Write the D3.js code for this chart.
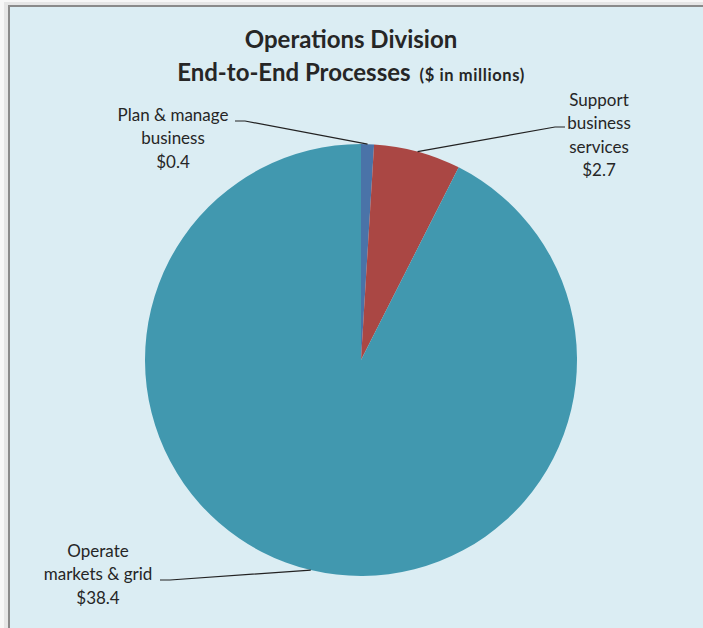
<!DOCTYPE html>
<html><head><meta charset="utf-8">
<script src="https://cdn.jsdelivr.net/npm/d3@7"></script>
<style>
html,body{margin:0;padding:0;background:#f7f7f7;}
svg{display:block;}
text{font-family:Lato, "Open Sans", sans-serif;fill:#262626;}
</style></head><body>
<svg id="c" width="703" height="628"></svg>
<script>
const categories = ["Plan & manage business", "Support business services", "Operate markets & grid"];
const values = [0.4, 2.7, 38.4];
const valueLabels = ["$0.4", "$2.7", "$38.4"];
const labelLines = [["Plan & manage", "business"], ["Support", "business", "services"], ["Operate", "markets & grid"]];
const colors = ["#4A73A8", "#AA4744", "#4198AF"];

const svg = d3.select("#c");
const W = 703, H = 628;
svg.append("rect").attr("x", 0).attr("y", 0).attr("width", W).attr("height", H).attr("fill", "#f7f7f7");
svg.append("rect").attr("x", 4).attr("y", 2).attr("width", W).attr("height", H).attr("fill", "#e6e6e6");
svg.append("rect").attr("x", 9).attr("y", 6).attr("width", W).attr("height", H)
  .attr("fill", "#DBEDF3").attr("stroke", "#8a8a8a").attr("stroke-width", 2);

// title
svg.append("text").attr("x", 351).attr("y", 48).attr("text-anchor", "middle")
  .attr("font-size", 24).attr("font-weight", "bold").attr("fill", "#111").text("Operations Division");
const t2 = svg.append("text").attr("x", 351).attr("y", 81).attr("text-anchor", "middle")
  .attr("font-weight", "bold").attr("fill", "#111");
t2.append("tspan").attr("font-size", 24).text("End-to-End Processes");
t2.append("tspan").attr("font-size", 16.5).attr("dx", 9).attr("letter-spacing", 0.6).text("($ in millions)");

const cx = 361, cy = 360, r = 216;
const pie = d3.pie().sort(null).value(d => d);
const arcs = pie(values);
const arc = d3.arc().innerRadius(0).outerRadius(r);
const g = svg.append("g").attr("transform", `translate(${cx},${cy})`);
g.selectAll("path").data(arcs).join("path")
  .attr("d", arc).attr("fill", (d, i) => colors[i]);

// labels
const labelPos = [
  {x: 173, y: 121, lineY: 121, hx: [235, 245]},
  {x: 599, y: 106, lineY: 127, hx: [565, 555]},
  {x: 98, y: 557, lineY: 580, hx: [160, 170]}
];
const edge = d3.arc().innerRadius(r).outerRadius(r);
arcs.forEach((a, i) => {
  const p = labelPos[i];
  const lines = labelLines[i].concat([valueLabels[i]]);
  const t = svg.append("text").attr("text-anchor", "middle").attr("font-size", 17);
  lines.forEach((ln, k) => {
    t.append("tspan").attr("x", p.x).attr("y", p.y + k * 23.3).text(ln);
  });
  const c = edge.centroid(a);
  svg.append("path")
    .attr("d", `M${p.hx[0]},${p.lineY}L${p.hx[1]},${p.lineY}L${cx + c[0]},${cy + c[1]}`)
    .attr("fill", "none").attr("stroke", "#222").attr("stroke-width", 1.2);
});
</script></body></html>
